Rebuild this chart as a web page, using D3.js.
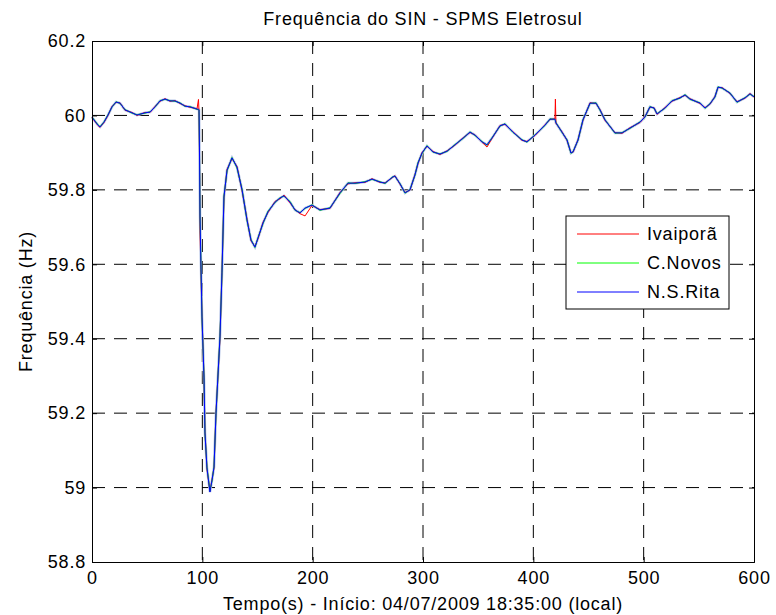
<!DOCTYPE html>
<meta charset="utf-8">
<script src="https://d3js.org/d3.v7.min.js"></script>
<style>
  body { margin: 0; background: #fff; }
  text { font-family: Arial, "Liberation Sans", sans-serif; font-size: 18px; letter-spacing: 0.8px; fill: #000; }
</style>
<svg width="776" height="615"></svg>

<script>
// tempo (s) e frequencia (Hz)
var tempo = [0, 5.4, 7.3, 10.9, 14.5, 18.1, 21.8, 25.4, 29.9, 36.3, 40.8, 48.0, 52.6, 57.1, 61.6, 66.2,
  70.7, 75.2, 79.8, 84.3, 88.8, 95.2, 96.5, 97.0, 97.4, 97.9, 99.7, 101.5, 102.4, 104.2, 106.9, 108.8,
  110.6, 112.4, 116.0, 117.8, 119.6, 122.4, 126.9, 131.4, 136.0, 140.5, 144.1, 147.7, 150.5, 155.0,
  159.5, 165.9, 170.4, 174.0, 179.5, 184.0, 188.5, 193.1, 199.4, 206.6, 215.7, 224.8, 232.0, 238.4,
  247.4, 253.8, 261.0, 265.6, 272.8, 274.6, 279.2, 283.7, 288.2, 292.7, 295.5, 299.1, 303.6, 309.1,
  315.4, 321.8, 329.0, 336.3, 342.6, 347.1, 353.5, 358.0, 362.5, 369.8, 374.3, 381.6, 389.7, 394.2,
  401.5, 410.6, 415.1, 419.6, 420.0, 420.5, 426.0, 430.5, 434.1, 436.0, 440.5, 445.0, 451.4, 456.8,
  460.4, 464.9, 474.0, 480.4, 487.6, 496.7, 501.2, 505.7, 509.4, 512.1, 519.3, 525.7, 532.9, 537.5,
  542.0, 551.1, 555.6, 560.1, 564.6, 567.4, 571.0, 578.2, 584.6, 591.8, 596.4, 600];

var nsRita = [59.995, 59.974, 59.969, 59.982, 60.001, 60.023, 60.036, 60.033, 60.015, 60.007, 60.001,
  60.007, 60.009, 60.023, 60.039, 60.044, 60.039, 60.039, 60.033, 60.025, 60.023, 60.017, 60.016, 60.015,
  59.915, 59.727, 59.458, 59.297, 59.147, 59.053, 58.988, 59.020, 59.055, 59.200, 59.405, 59.577, 59.781,
  59.853, 59.886, 59.861, 59.800, 59.719, 59.665, 59.646, 59.671, 59.711, 59.741, 59.767, 59.778, 59.784,
  59.767, 59.746, 59.738, 59.751, 59.759, 59.746, 59.751, 59.792, 59.818, 59.818, 59.821, 59.829, 59.821,
  59.818, 59.835, 59.837, 59.816, 59.792, 59.800, 59.840, 59.872, 59.899, 59.918, 59.902, 59.896, 59.904,
  59.921, 59.939, 59.955, 59.947, 59.929, 59.921, 59.939, 59.972, 59.977, 59.955, 59.934, 59.929, 59.947,
  59.974, 59.990, 59.990, 59.986, 59.980, 59.955, 59.934, 59.899, 59.902, 59.934, 59.988, 60.033, 60.033,
  60.015, 59.988, 59.953, 59.953, 59.966, 59.982, 59.996, 60.023, 60.020, 60.004, 60.020, 60.039, 60.047,
  60.055, 60.044, 60.033, 60.020, 60.031, 60.050, 60.076, 60.074, 60.060, 60.036, 60.047, 60.058, 60.050];

var cNovos = [59.996, 59.975, 59.970, 59.983, 60.002, 60.022, 60.037, 60.032, 60.016, 60.006, 60.002,
  60.006, 60.010, 60.022, 60.040, 60.043, 60.040, 60.038, 60.034, 60.024, 60.024, 60.016, 60.016, 60.015,
  59.913, 59.730, 59.455, 59.300, 59.145, 59.055, 58.990, 59.018, 59.057, 59.198, 59.408, 59.575, 59.783,
  59.851, 59.887, 59.859, 59.802, 59.717, 59.667, 59.645, 59.672, 59.709, 59.743, 59.766, 59.779, 59.783,
  59.769, 59.745, 59.739, 59.750, 59.760, 59.745, 59.752, 59.790, 59.819, 59.817, 59.822, 59.828, 59.822,
  59.817, 59.836, 59.836, 59.817, 59.791, 59.801, 59.839, 59.874, 59.897, 59.919, 59.901, 59.897, 59.903,
  59.922, 59.938, 59.956, 59.946, 59.930, 59.920, 59.940, 59.971, 59.978, 59.954, 59.935, 59.928, 59.948,
  59.973, 59.991, 59.989, 59.986, 59.981, 59.954, 59.935, 59.898, 59.903, 59.933, 59.989, 60.032, 60.034,
  60.014, 59.989, 59.952, 59.954, 59.965, 59.983, 59.995, 60.024, 60.019, 60.005, 60.019, 60.040, 60.046,
  60.056, 60.043, 60.034, 60.019, 60.032, 60.049, 60.077, 60.073, 60.061, 60.035, 60.048, 60.057, 60.051];

var ivaipora = [59.994, 59.973, 59.968, 59.981, 60.000, 60.024, 60.035, 60.034, 60.014, 60.008, 60.000,
  60.008, 60.008, 60.024, 60.038, 60.045, 60.038, 60.040, 60.032, 60.026, 60.022, 60.018, 60.043, 60.010,
  59.905, 59.690, 59.460, 59.295, 59.150, 59.050, 58.990, 59.022, 59.053, 59.202, 59.402, 59.579, 59.779,
  59.855, 59.884, 59.863, 59.798, 59.721, 59.663, 59.648, 59.669, 59.713, 59.739, 59.769, 59.776, 59.786,
  59.765, 59.747, 59.736, 59.730, 59.758, 59.747, 59.750, 59.793, 59.816, 59.819, 59.820, 59.830, 59.820,
  59.819, 59.834, 59.838, 59.815, 59.793, 59.799, 59.841, 59.871, 59.900, 59.917, 59.903, 59.895, 59.905,
  59.920, 59.940, 59.954, 59.948, 59.928, 59.915, 59.938, 59.973, 59.976, 59.956, 59.933, 59.930, 59.946,
  59.975, 59.989, 59.991, 60.044, 59.979, 59.956, 59.933, 59.900, 59.901, 59.935, 59.987, 60.034, 60.032,
  60.016, 59.987, 59.954, 59.952, 59.967, 59.981, 59.997, 60.022, 60.021, 60.003, 60.021, 60.038, 60.048,
  60.054, 60.045, 60.032, 60.021, 60.030, 60.051, 60.075, 60.075, 60.059, 60.037, 60.046, 60.059, 60.049];

var series = [
  { nome: "Ivaiporã", cor: "#ff0000", valores: ivaipora },
  { nome: "C.Novos", cor: "#00ff00", valores: cNovos },
  { nome: "N.S.Rita", cor: "#0000ff", valores: nsRita }
];

var xTicks = [0, 100, 200, 300, 400, 500, 600];
var yTicks = [58.8, 59, 59.2, 59.4, 59.6, 59.8, 60, 60.2];

var svg = d3.select("svg"),
    margin = { top: 41, right: 22, bottom: 53, left: 92 },
    width = +svg.attr("width") - margin.left - margin.right,
    height = +svg.attr("height") - margin.top - margin.bottom,
    g = svg.append("g").attr("transform", "translate(" + margin.left + "," + margin.top + ")");

var x = d3.scaleLinear().domain([0, 600]).range([0, width]);
var y = d3.scaleLinear().domain([58.8, 60.2]).range([height, 0]);

// grade tracejada
g.append("g").selectAll("line")
  .data(xTicks.slice(1, -1))
  .enter().append("line")
  .attr("x1", function (d) { return x(d); })
  .attr("x2", function (d) { return x(d); })
  .attr("y1", 0).attr("y2", height)
  .attr("stroke", "#000").attr("stroke-dasharray", "13,9");

g.append("g").selectAll("line")
  .data(yTicks.slice(1, -1))
  .enter().append("line")
  .attr("y1", function (d) { return y(d); })
  .attr("y2", function (d) { return y(d); })
  .attr("x1", 0).attr("x2", width)
  .attr("stroke", "#000").attr("stroke-dasharray", "13,9");

// curvas
var line = d3.line()
  .x(function (d) { return x(d[0]); })
  .y(function (d) { return y(d[1]); });

// halo claro que aparece em volta das curvas sobrepostas
g.append("path")
  .attr("d", line(d3.zip(tempo, nsRita)))
  .attr("fill", "none")
  .attr("stroke", "#b4c3e6")
  .attr("stroke-width", 2.6);

series.forEach(function (s) {
  g.append("path")
    .attr("d", line(d3.zip(tempo, s.valores)))
    .attr("fill", "none")
    .attr("stroke", s.cor)
    .attr("stroke-width", 1);
});

// eixos (caixa com marcas internas)
g.append("g")
  .attr("transform", "translate(0," + height + ")")
  .call(d3.axisBottom(x).tickValues(xTicks).tickSize(-5).tickPadding(9).tickFormat(d3.format("d")));
g.append("g")
  .call(d3.axisTop(x).tickValues(xTicks).tickSize(-5).tickFormat(""));
g.append("g")
  .call(d3.axisLeft(y).tickValues(yTicks).tickSize(-5).tickPadding(6).tickFormat(function (d) { return +d.toFixed(1); }));
g.append("g")
  .attr("transform", "translate(" + width + ",0)")
  .call(d3.axisRight(y).tickValues(yTicks).tickSize(-5).tickFormat(""));

g.selectAll(".domain").attr("stroke", "#000");
g.selectAll(".tick line").attr("stroke", "#000");
g.selectAll(".tick text").attr("font-size", null).attr("font-family", null).style("font-size", "18px");

// titulos
svg.append("text")
  .attr("x", margin.left + width / 2)
  .attr("y", 25)
  .attr("text-anchor", "middle")
  .text("Frequência do SIN - SPMS Eletrosul");

svg.append("text")
  .attr("x", margin.left + width / 2)
  .attr("y", 610)
  .attr("text-anchor", "middle")
  .text("Tempo(s) - Início: 04/07/2009 18:35:00 (local)");

svg.append("text")
  .attr("transform", "translate(32," + (margin.top + height / 2) + ") rotate(-90)")
  .attr("text-anchor", "middle")
  .text("Frequência (Hz)");

// legenda
var legend = svg.append("g").attr("transform", "translate(566,216)");
legend.append("rect")
  .attr("width", 163).attr("height", 93)
  .attr("fill", "#fff").attr("stroke", "#000");

var item = legend.selectAll(".item")
  .data(series)
  .enter().append("g")
  .attr("transform", function (d, i) { return "translate(0," + (18 + i * 29) + ")"; });

item.append("line")
  .attr("x1", 11).attr("x2", 73)
  .attr("stroke", function (d) { return d.cor; });

item.append("text")
  .attr("x", 81)
  .attr("dy", "0.35em")
  .text(function (d) { return d.nome; });
</script>
